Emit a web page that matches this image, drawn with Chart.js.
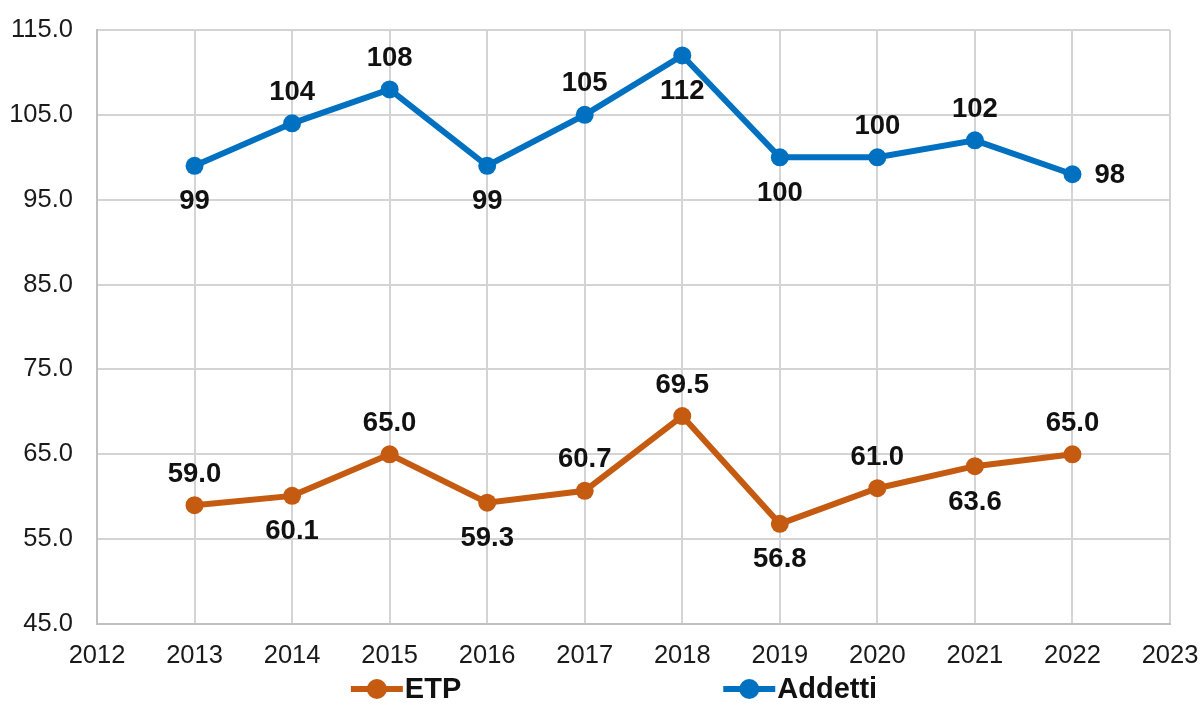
<!DOCTYPE html>
<html>
<head>
<meta charset="utf-8">
<script src="https://cdn.jsdelivr.net/npm/chart.js@4.4.1/dist/chart.umd.min.js"></script>
<style>
  html, body { margin: 0; padding: 0; background: #fff; }
  #wrap { width: 1202px; height: 724px; }
</style>
</head>
<body>
<div id="wrap"><canvas id="chart"></canvas></div>
<script>
// data
var years   = [2013, 2014, 2015, 2016, 2017, 2018, 2019, 2020, 2021, 2022];
var etp     = [59.0, 60.1, 65.0, 59.3, 60.7, 69.5, 56.8, 61.0, 63.6, 65.0];
var addetti = [99, 104, 108, 99, 105, 112, 100, 100, 102, 98];
var yTicks  = [45, 55, 65, 75, 85, 95, 105, 115];

var ORANGE = '#C55A11',
    BLUE   = '#0070C0',
    FONT   = '"Liberation Sans", Arial, sans-serif';

function toPoints(vals){
  var ret = [];
  for (var i = 0, l = vals.length; i < l; i++) {
    ret.push({ x: years[i], y: vals[i] });
  }
  return ret;
}

// where each value label sits around its point
var etpLabelPos     = ['top', 'bottom', 'top', 'bottom', 'top', 'top', 'bottom', 'top', 'bottom', 'top'];
var addettiLabelPos = ['bottom', 'top', 'top', 'bottom', 'top', 'bottom', 'bottom', 'top', 'top', 'right'];

var valueLabels = {
  id: 'valueLabels',
  afterDatasetsDraw: function(chart){
    var ctx = chart.ctx;
    ctx.save();
    ctx.font = 'bold 27.5px ' + FONT;
    ctx.fillStyle = '#111';
    ctx.textBaseline = 'middle';
    chart.data.datasets.forEach(function(ds, di){
      var meta = chart.getDatasetMeta(di);
      meta.data.forEach(function(pt, i){
        var pos = ds.labelPos[i], x = pt.x, y = pt.y;
        ctx.textAlign = 'center';
        if (pos === 'top') y -= 32;
        else if (pos === 'bottom') y += 35;
        else { ctx.textAlign = 'left'; x += 22; }
        ctx.fillText(ds.labelFmt(ds.data[i].y), x, y + 1);
      });
    });
    ctx.restore();
  }
};

var bottomLegend = {
  id: 'bottomLegend',
  afterDraw: function(chart){
    var ctx = chart.ctx, y = 689, gap = 262, mark = 52;
    ctx.save();
    ctx.font = 'bold 29px ' + FONT;
    var items = chart.data.datasets.map(function(ds){
      return { ds: ds, w: mark + 2 + ctx.measureText(ds.label).width };
    });
    var total = items[0].w + gap + items[1].w;
    var x = 614 - total / 2;
    items.forEach(function(it){
      ctx.strokeStyle = it.ds.borderColor;
      ctx.lineWidth = 6;
      ctx.beginPath();
      ctx.moveTo(x, y);
      ctx.lineTo(x + mark, y);
      ctx.stroke();
      ctx.fillStyle = it.ds.borderColor;
      ctx.beginPath();
      ctx.arc(x + mark / 2, y, 10, 0, Math.PI * 2);
      ctx.fill();
      ctx.fillStyle = '#111';
      ctx.textAlign = 'left';
      ctx.textBaseline = 'middle';
      ctx.fillText(it.ds.label, x + mark + 2, y + 1);
      x += it.w + gap;
    });
    ctx.restore();
  }
};

new Chart(document.getElementById('chart'), {
  type: 'line',
  data: {
    datasets: [
      { label: 'ETP', data: toPoints(etp), borderColor: ORANGE, backgroundColor: ORANGE,
        labelPos: etpLabelPos, labelFmt: function(v){ return v.toFixed(1); } },
      { label: 'Addetti', data: toPoints(addetti), borderColor: BLUE, backgroundColor: BLUE,
        labelPos: addettiLabelPos, labelFmt: function(v){ return String(v); } }
    ]
  },
  options: {
    responsive: true,
    maintainAspectRatio: false,
    animation: false,
    layout: { padding: { top: 30, right: 32, bottom: 52, left: 0 } },
    elements: {
      line: { borderWidth: 6, tension: 0 },
      point: { radius: 9, hoverRadius: 9, borderWidth: 0 }
    },
    plugins: {
      legend: { display: false },
      tooltip: { enabled: false }
    },
    scales: {
      x: {
        type: 'linear',
        min: 2012, max: 2023,
        grid: { color: '#d4d4d4', lineWidth: 2, drawTicks: false },
        border: { color: '#c0c0c0', width: 2 },
        ticks: { stepSize: 1, padding: 17, color: '#1a1a1a', font: { family: FONT, size: 25.5 },
                 maxRotation: 0, autoSkip: false, callback: function(v){ return String(v); } },
        afterFit: function(scale){
          scale.height = 48;
          scale.paddingLeft = 0;
          scale.paddingRight = 0;
        }
      },
      y: {
        min: 45, max: 115,
        grid: { color: '#d4d4d4', lineWidth: 2, drawTicks: false },
        border: { color: '#c0c0c0', width: 2 },
        afterBuildTicks: function(scale){
          scale.ticks = yTicks.map(function(v){ return { value: v }; });
        },
        ticks: { padding: 24, color: '#1a1a1a', font: { family: FONT, size: 25.5 },
                 callback: function(v){ return v.toFixed(1); } },
        afterFit: function(scale){
          scale.width = 97;
          scale.paddingTop = 0;
          scale.paddingBottom = 0;
        }
      }
    }
  },
  plugins: [valueLabels, bottomLegend]
});
</script>
</body>
</html>
